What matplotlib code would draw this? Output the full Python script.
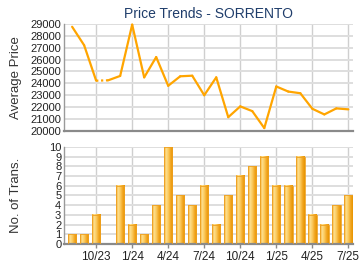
import numpy as np
import matplotlib
matplotlib.use("Agg")
import matplotlib.pyplot as plt
from matplotlib.colors import LinearSegmentedColormap

# months 8/23 .. 7/25
months = ["8/23", "9/23", "10/23", "11/23", "12/23", "1/24", "2/24", "3/24",
          "4/24", "5/24", "6/24", "7/24", "8/24", "9/24", "10/24", "11/24",
          "12/24", "1/25", "2/25", "3/25", "4/25", "5/25", "6/25", "7/25"]
avg_price = [28770, 27210, 24220, 24250, 24620, 28950, 24500, 26210,
             23790, 24590, 24640, 22990, 24500, 21140, 22050, 21650,
             20220, 23730, 23300, 23160, 21850, 21370, 21880, 21800]
no_data = ["11/23"]  # month shown as dotted link
transactions = [1, 1, 3, 0, 6, 2, 1, 4, 10, 5, 4, 6, 2, 5, 7, 8, 9, 6, 6, 9, 3, 2, 4, 5]
tick_labels = ["10/23", "1/24", "4/24", "7/24", "10/24", "1/25", "4/25", "7/25"]

plt.rcParams["font.family"] = ["Liberation Sans", "DejaVu Sans"]

fig = plt.figure(figsize=(3.6, 2.7), dpi=100)
ax1 = fig.add_axes([0.178, 0.516, 0.803, 0.395])
ax2 = fig.add_axes([0.178, 0.096, 0.803, 0.360])

x = np.arange(len(months))
tick_pos = [months.index(m) for m in tick_labels]
line_c = "#ffa500"
grid_c = "#dedede"

for ax in (ax1, ax2):
    ax.set_xlim(-0.67, 23.4)
    for s in ("top", "right"):
        ax.spines[s].set_visible(False)
    ax.spines["bottom"].set_color("#8a8a8a")
    ax.spines["bottom"].set_linewidth(1.6)
    ax.spines["left"].set_color("#9a9a9a")
    ax.spines["left"].set_linewidth(1.0)
    for p in tick_pos:
        ax.axvline(p, color="#cfcfcf", lw=1.0, zorder=0)
    ax.tick_params(axis="y", length=0, labelsize=8, pad=2, colors="#222222")
    ax.set_xticks(tick_pos)

# price line: dotted across the month with no data
gap = [months.index(m) for m in no_data]
for i in range(len(x) - 1):
    dotted = (i + 1) in gap
    ax1.plot(x[i:i + 2], avg_price[i:i + 2], color=line_c, lw=1.6,
             ls=(0, (1, 1.2)) if dotted else "-", solid_capstyle="round",
             clip_on=False, zorder=3)
ax1.set_ylim(20000, 29000)
ax1.set_yticks(range(20000, 29001, 1000))
for v in range(21000, 29001, 1000):
    ax1.axhline(v, color=grid_c, lw=1.4, zorder=0)
ax1.tick_params(axis="x", length=0, labelbottom=False)
ax1.set_ylabel("Average Price", fontsize=9.5, color="#333333")
ax1.yaxis.set_label_coords(-0.145, 0.5)
ax1.set_title("Price Trends - SORRENTO", fontsize=10, color="#1f3d6b", pad=4)

# bars with a horizontal gradient
cmap = LinearSegmentedColormap.from_list(
    "bar", ["#f3a82a", "#fde08f", "#fbc85a", "#f2a622", "#e79400"])
grad = np.linspace(0, 1, 64).reshape(1, -1)
w = 0.7
for xi, h in zip(x, transactions):
    if h <= 0:
        continue
    ax2.imshow(grad, cmap=cmap, aspect="auto", zorder=2,
               extent=(xi - w / 2, xi + w / 2, 0, h))
    ax2.bar(xi, h, width=w, facecolor="none", edgecolor="#eea020", lw=0.6, zorder=3)
ax2.set_xlim(-0.67, 23.4)
ax2.set_ylim(0, 10)
ax2.set_yticks(range(0, 11))
for v in range(1, 11):
    ax2.axhline(v, color=grid_c, lw=1.4, zorder=0)
ax2.set_xticklabels(tick_labels)
ax2.tick_params(axis="x", length=3, width=1, color="#8a8a8a", labelsize=8.5,
                pad=2, colors="#222222")
ax2.tick_params(axis="x", colors="#8a8a8a", labelcolor="#222222")
ax2.set_ylabel("No. of Trans.", fontsize=9.5, color="#333333")
ax2.yaxis.set_label_coords(-0.145, 0.5)

fig.savefig("out.png", dpi=100)
